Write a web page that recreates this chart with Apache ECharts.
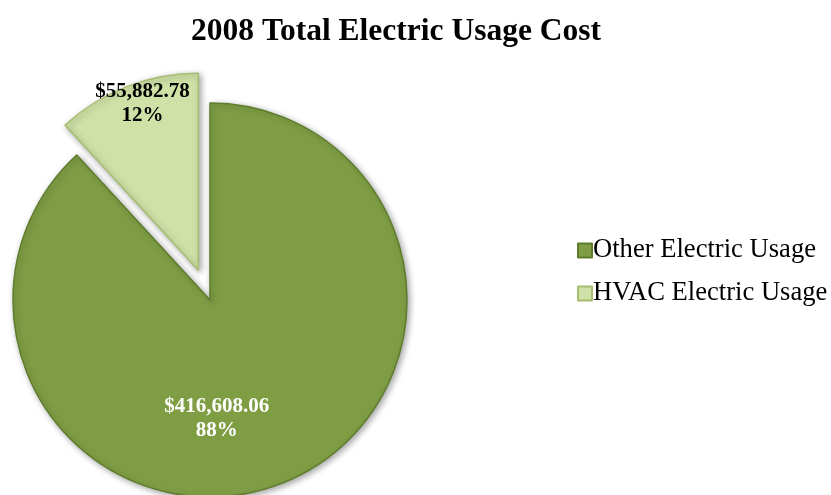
<!DOCTYPE html>
<html>
<head>
<meta charset="utf-8">
<script src="https://cdn.jsdelivr.net/npm/echarts@6/dist/echarts.min.js"></script>
<style>
  html, body { margin: 0; padding: 0; background: #ffffff; }
  #chart { width: 831px; height: 495px; }
</style>
</head>
<body>
<div id="chart"></div>
<script>
// Electric usage cost split, 2008
const titleText = '2008 Total Electric Usage Cost';
const categories = ['Other Electric Usage', 'HVAC Electric Usage'];
const costs = [416608.06, 55882.78];

const fillColors = ['#7F9E44', '#D0E1A7'];
const edgeColors = ['#5F7C2C', '#A7BE72'];
const labelColors = ['#ffffff', '#000000'];
// horizontal nudge via padding, vertical nudge via empty lines above / below
const labelPadding = [[0, 60, 0, 0], [0, 38, 0, 0]];
const blankAbove = [2, 0];
const blankBelow = [0, 6];

const total = costs.reduce((a, b) => a + b, 0);

function money(v) {
  return '$' + v.toLocaleString('en-US', { minimumFractionDigits: 2, maximumFractionDigits: 2 });
}

const chart = echarts.init(document.getElementById('chart'), null, { renderer: 'canvas' });

const seriesData = categories.map((name, i) => ({
  name: name,
  value: costs[i],
  selected: i === 1,
  itemStyle: {
    color: fillColors[i],
    borderColor: edgeColors[i],
    borderWidth: 1.5,
    shadowColor: 'rgba(0,0,0,0.35)',
    shadowBlur: 6,
    shadowOffsetX: 2,
    shadowOffsetY: 2
  },
  label: { color: labelColors[i], padding: labelPadding[i] }
}));

chart.setOption({
  animation: false,
  backgroundColor: '#ffffff',
  title: {
    text: titleText,
    left: 186,
    top: 11,
    textStyle: {
      fontFamily: 'Liberation Serif',
      fontWeight: 'bold',
      fontSize: 31.5,
      color: '#000000'
    }
  },
  legend: {
    orient: 'vertical',
    left: 572,
    top: 232,
    itemWidth: 14,
    itemHeight: 14,
    itemGap: 16,
    icon: 'rect',
    selectedMode: false,
    textStyle: {
      fontFamily: 'Liberation Serif',
      fontSize: 26.6,
      color: '#000000',
      padding: [0, 0, 0, -4]
    },
    data: categories
  },
  series: [{
    type: 'pie',
    center: [210, 300],
    radius: 197,
    startAngle: 90,
    clockwise: true,
    selectedMode: 'single',
    selectedOffset: 32,
    avoidLabelOverlap: false,
    emphasis: { disabled: true },
    select: {
      itemStyle: {
        color: fillColors[1],
        borderColor: edgeColors[1],
        borderWidth: 1.5
      }
    },
    label: {
      show: true,
      position: 'inside',
      fontFamily: 'Liberation Serif',
      fontWeight: 'bold',
      fontSize: 21,
      lineHeight: 24,
      align: 'center',
      formatter: p => '\n'.repeat(blankAbove[p.dataIndex]) +
        money(p.value) + '\n' + Math.round(p.value / total * 100) + '%' +
        '\n '.repeat(blankBelow[p.dataIndex])
    },
    labelLine: { show: false },
    data: seriesData
  }]
});
</script>
</body>
</html>
